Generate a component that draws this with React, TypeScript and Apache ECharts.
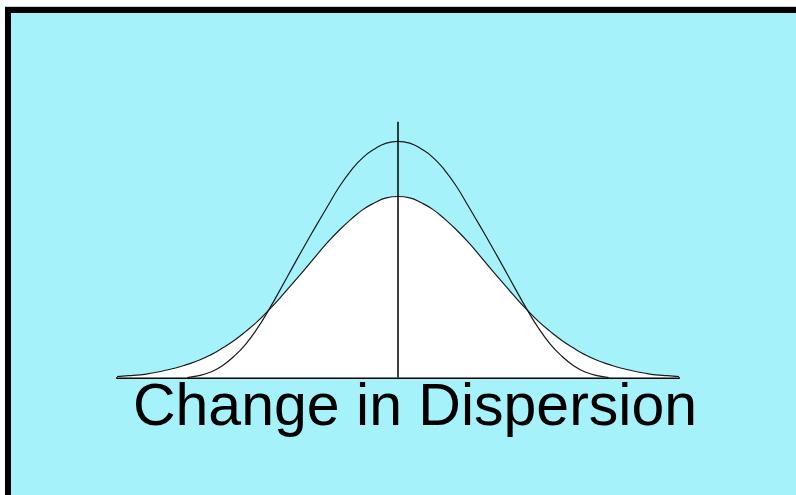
import React, { useEffect, useRef } from "react";
import * as echarts from "echarts";

// Wider (original) distribution (x in σ units, y density)
const wideX = [-3.0, -2.875, -2.75, -2.625, -2.5, -2.375, -2.25, -2.125, -2.0, -1.875, -1.75, -1.625, -1.5, -1.375, -1.25, -1.125, -1.0, -0.875, -0.75, -0.625, -0.5, -0.375, -0.25, -0.125, 0, 0.125, 0.25, 0.375, 0.5, 0.625, 0.75, 0.875, 1.0, 1.125, 1.25, 1.375, 1.5, 1.625, 1.75, 1.875, 2.0, 2.125, 2.25, 2.375, 2.5, 2.625, 2.75, 2.875, 3.0];
const wideY = [0.002, 0.004, 0.006, 0.01, 0.015, 0.021, 0.029, 0.038, 0.05, 0.065, 0.082, 0.102, 0.124, 0.15, 0.178, 0.208, 0.238, 0.269, 0.299, 0.326, 0.35, 0.371, 0.386, 0.397, 0.4, 0.397, 0.386, 0.371, 0.35, 0.326, 0.299, 0.269, 0.238, 0.208, 0.178, 0.15, 0.124, 0.102, 0.082, 0.065, 0.05, 0.038, 0.029, 0.021, 0.015, 0.01, 0.006, 0.004, 0.002];

// Narrower distribution
const narrowX = [-2.25, -2.125, -2.0, -1.875, -1.75, -1.625, -1.5, -1.375, -1.25, -1.125, -1.0, -0.875, -0.75, -0.625, -0.5, -0.375, -0.25, -0.125, 0, 0.125, 0.25, 0.375, 0.5, 0.625, 0.75, 0.875, 1.0, 1.125, 1.25, 1.375, 1.5, 1.625, 1.75, 1.875, 2.0, 2.125, 2.25];
const narrowY = [0, 0.004, 0.012, 0.026, 0.047, 0.074, 0.109, 0.151, 0.197, 0.244, 0.29, 0.335, 0.379, 0.422, 0.458, 0.486, 0.505, 0.518, 0.522, 0.518, 0.505, 0.486, 0.458, 0.422, 0.379, 0.335, 0.29, 0.244, 0.197, 0.151, 0.109, 0.074, 0.047, 0.026, 0.012, 0.004, 0];

// Vertical mean line
const meanX = [0, 0];
const meanY = [0, 0.565];

const label = "Change in Dispersion";

export default function App() {
  const ref = useRef<HTMLDivElement>(null);
  useEffect(() => {
    if (!ref.current) return;
    const chart = echarts.init(ref.current, null, { renderer: "svg" });
    const pairs = (xs: number[], ys: number[]) => xs.map((x, i) => [x, ys[i]]);
    chart.setOption({
      animation: false,
      backgroundColor: "#A5F2FB",
      grid: { left: 117, right: 117, top: 106, bottom: 117.5 },
      xAxis: {
        type: "value",
        min: -3,
        max: 3,
        axisLine: { show: true, onZero: false, lineStyle: { color: "#000", width: 2 } },
        axisTick: { show: false },
        axisLabel: { show: false },
        splitLine: { show: false },
      },
      yAxis: {
        type: "value",
        min: 0,
        max: 0.6,
        show: false,
        splitLine: { show: false },
      },
      series: [
        {
          type: "line",
          data: pairs(wideX, wideY),
          smooth: 0.5,
          showSymbol: false,
          lineStyle: { color: "#1a1a1a", width: 1.2 },
          areaStyle: { color: "#ffffff", opacity: 1 },
          z: 2,
        },
        {
          type: "line",
          data: pairs(narrowX, narrowY),
          smooth: 0.5,
          showSymbol: false,
          lineStyle: { color: "#1a1a1a", width: 1.2 },
          z: 3,
        },
        {
          type: "line",
          data: pairs(meanX, meanY),
          showSymbol: false,
          lineStyle: { color: "#000", width: 1.5 },
          z: 4,
        },
      ],
      graphic: [
        { type: "rect", shape: { x: 0, y: 0, width: 796, height: 7 }, style: { fill: "#ffffff" } },
        { type: "rect", shape: { x: 0, y: 0, width: 5, height: 495 }, style: { fill: "#ffffff" } },
        { type: "rect", shape: { x: 5, y: 6, width: 791, height: 1 }, style: { fill: "#d0d0d0" } },
        { type: "rect", shape: { x: 5, y: 7, width: 791, height: 6 }, style: { fill: "#000000" } },
        { type: "rect", shape: { x: 5, y: 7, width: 6, height: 488 }, style: { fill: "#000000" } },
        {
          type: "text",
          x: 415,
          y: 405,
          style: {
            text: label,
            fill: "#000",
            font: "59px 'Liberation Sans', Arial, sans-serif",
            textAlign: "center",
            textVerticalAlign: "middle",
          },
        },
      ],
    });
    return () => chart.dispose();
  }, []);
  return <div ref={ref} style={{ position: "fixed", left: 0, top: 0, width: 796, height: 495 }} />;
}
